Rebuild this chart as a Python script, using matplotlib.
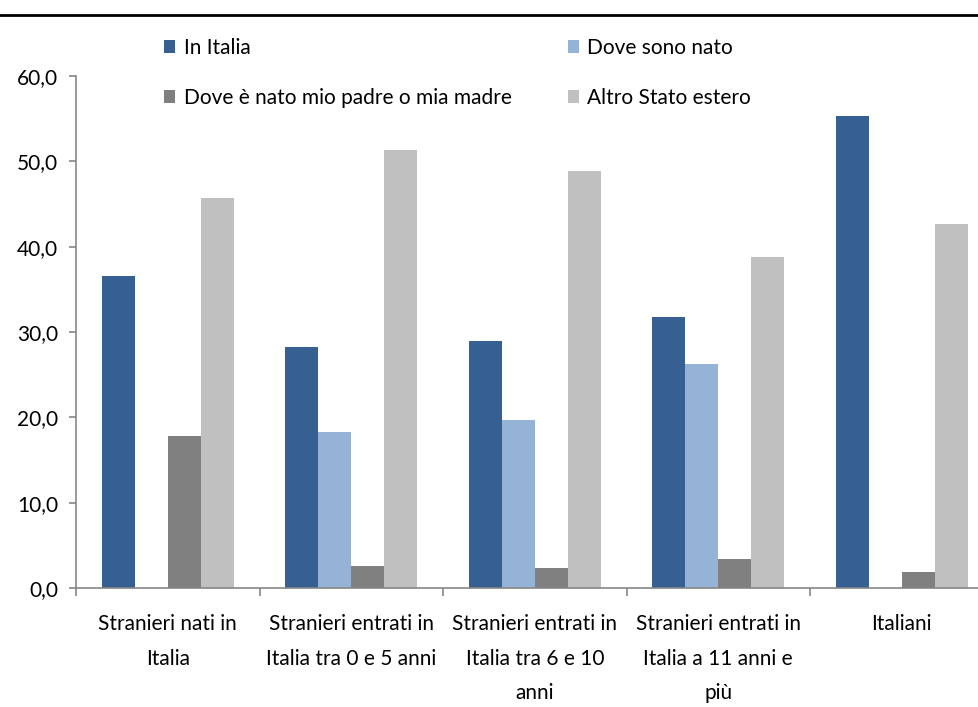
import matplotlib.pyplot as plt
from matplotlib.lines import Line2D
from matplotlib.ticker import FixedLocator, FuncFormatter

plt.rcParams['font.family'] = ['Lato', 'DejaVu Sans']

categories = [
    "Stranieri nati in\nItalia",
    "Stranieri entrati in\nItalia tra 0 e 5 anni",
    "Stranieri entrati in\nItalia tra 6 e 10\nanni",
    "Stranieri entrati in\nItalia a 11 anni e\npiù",
    "Italiani",
]
series = ["In Italia", "Dove sono nato", "Dove è nato mio padre o mia madre", "Altro Stato estero"]
in_italia = [36.6, 28.2, 29.0, 31.8, 55.3]
dove_sono_nato = [0.0, 18.3, 19.7, 26.3, 0.0]
padre_madre = [17.8, 2.6, 2.3, 3.4, 1.9]
altro_stato = [45.7, 51.3, 48.9, 38.8, 42.6]
colors = ["#376092", "#95B3D7", "#808080", "#C0C0C0"]

fig = plt.figure(figsize=(9.79, 7.07), dpi=100)
W, H = 979, 707
ax = fig.add_axes([76 / W, (H - 588) / H, 5 * 183.5 / W, 512 / H])

width = 0.18
for i, (vals, c, name) in enumerate(zip([in_italia, dove_sono_nato, padre_madre, altro_stato], colors, series)):
    xs = [g + (i - 1.5) * width for g in range(len(categories))]
    ax.bar(xs, vals, width=width, color=c, label=name)

ax.set_xlim(-0.5, len(categories) - 0.5)
ax.set_ylim(0, 60)
ax.set_yticks(range(0, 61, 10))
ax.yaxis.set_major_formatter(FuncFormatter(lambda v, p: f"{v:.1f}".replace(".", ",")))

ax.xaxis.set_major_locator(FixedLocator([g - 0.5 for g in range(len(categories) + 1)]))
ax.xaxis.set_major_formatter(FuncFormatter(lambda v, p: ""))
ax.set_xticks(range(len(categories)), minor=True)
ax.set_xticklabels(categories, minor=True, fontsize=15, linespacing=1.9)
ax.tick_params(axis='x', which='minor', length=0, pad=19)
ax.tick_params(axis='x', which='major', length=6, color="#868686", width=1.2)
ax.tick_params(axis='y', length=5, color="#868686", width=1.2, labelsize=15, pad=8)

for s in ['top', 'right']:
    ax.spines[s].set_visible(False)
for s in ['left', 'bottom']:
    ax.spines[s].set_color("#868686")
    ax.spines[s].set_linewidth(1.2)

# linea nera in alto
fig.add_artist(Line2D([0, 1], [1 - 15 / H, 1 - 15 / H], color="black", lw=2))

h, l = ax.get_legend_handles_labels()
order = [0, 2, 1, 3]
ax.legend([h[k] for k in order], [l[k] for k in order], ncol=2, frameon=False,
          loc='upper left', bbox_to_anchor=(145 / W, 1 - 19 / H), bbox_transform=fig.transFigure,
          fontsize=15, handlelength=0.55, handleheight=0.55, handletextpad=0.4,
          columnspacing=2.7, labelspacing=1.45)

fig.savefig("out.png", dpi=100)
